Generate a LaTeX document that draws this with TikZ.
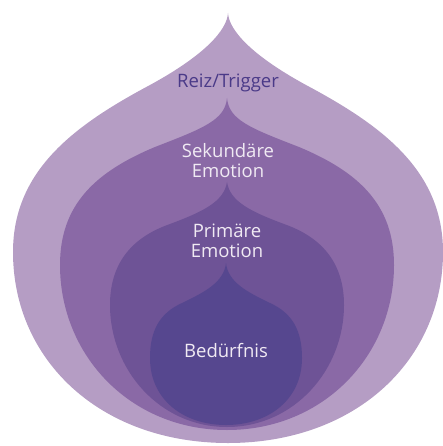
\documentclass[tikz,border=0pt]{standalone}
\usepackage{fontspec}
\setmainfont{Open Sans}
\usepackage{xcolor}

\definecolor{layerA}{HTML}{B59DC4}
\definecolor{layerB}{HTML}{8A69A6}
\definecolor{layerC}{HTML}{6E5396}
\definecolor{layerD}{HTML}{56478F}
\definecolor{darktext}{HTML}{4A3A88}
\definecolor{lighttext}{HTML}{F0EAF3}

\tikzset{
  lbl/.style={align=center, font=\fontsize{18.5}{20}\selectfont, text=lighttext, inner sep=0pt},
}

\begin{document}
\begin{tikzpicture}[x=1pt, y=-1pt]
\useasboundingbox (0,0) rectangle (443,446);

% outer layer
\fill[layerA] (228,13) .. controls (227,30) and (205,55) .. (150,85)
  .. controls (75,125) and (13,170) .. (13,252)
  .. controls (13,360) and (100,443) .. (228,443)
  .. controls (356,443) and (443,360) .. (443,252)
  .. controls (443,170) and (381,125) .. (306,85)
  .. controls (251,55) and (229,30) .. (228,13) -- cycle;

% second layer
\fill[layerB] (227,98) .. controls (225,120) and (204,128) .. (155,147)
  .. controls (95,172) and (60,205) .. (60,265)
  .. controls (60,355) and (130,430) .. (227,430)
  .. controls (324,430) and (394,355) .. (394,265)
  .. controls (394,205) and (359,172) .. (299,147)
  .. controls (250,128) and (229,120) .. (227,98) -- cycle;

% third layer
\fill[layerC] (227,182) .. controls (224,202) and (202,212) .. (170,224)
  .. controls (130,238) and (110,265) .. (110,305)
  .. controls (110,370) and (160,427) .. (227,427)
  .. controls (294,427) and (344,370) .. (344,305)
  .. controls (344,265) and (324,238) .. (284,224)
  .. controls (252,212) and (230,202) .. (227,182) -- cycle;

% inner layer
\fill[layerD] (226,263) .. controls (224,282) and (205,292) .. (182,303)
  .. controls (160,313) and (150,330) .. (150,358)
  .. controls (150,400) and (184,425) .. (226,425)
  .. controls (268,425) and (302,400) .. (302,358)
  .. controls (302,330) and (292,313) .. (270,303)
  .. controls (247,292) and (228,282) .. (226,263) -- cycle;

\node[lbl, text=darktext] (trigger) at (228,83) {Reiz/Trigger};
\node[lbl] (secondary) at (228,161) {Sekundäre\\Emotion};
\node[lbl] (primary) at (227,241) {Primäre\\Emotion};
\node[lbl] (need) at (226,351) {Bedürfnis};

\end{tikzpicture}
\end{document}
